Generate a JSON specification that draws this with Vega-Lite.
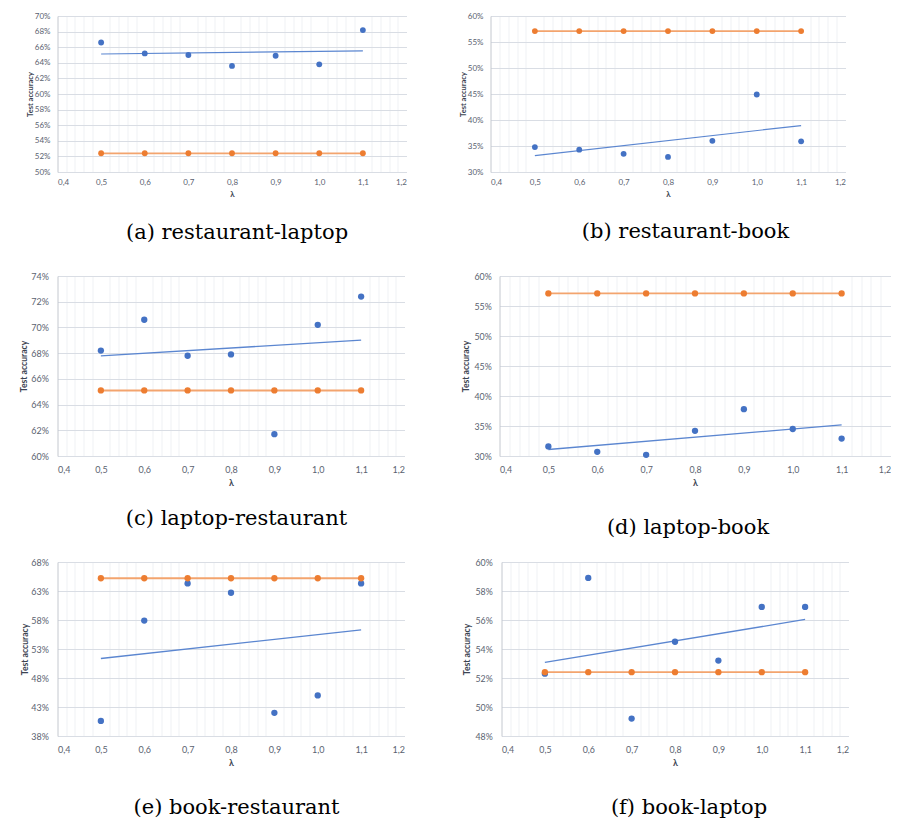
{
"$schema": "https://vega.github.io/schema/vega-lite/v6.json",
"padding": {"left": 19.5, "top": 12, "right": 0, "bottom": 0},
"background": "white",
"datasets": {"acc": [
{"p":"a","lam":0.5,"acc":0.666,"s":"model"},{"p":"a","lam":0.6,"acc":0.652,"s":"model"},{"p":"a","lam":0.7,"acc":0.650,"s":"model"},{"p":"a","lam":0.8,"acc":0.636,"s":"model"},{"p":"a","lam":0.9,"acc":0.649,"s":"model"},{"p":"a","lam":1.0,"acc":0.638,"s":"model"},{"p":"a","lam":1.1,"acc":0.682,"s":"model"},
{"p":"a","lam":0.5,"acc":0.524,"s":"baseline"},{"p":"a","lam":0.6,"acc":0.524,"s":"baseline"},{"p":"a","lam":0.7,"acc":0.524,"s":"baseline"},{"p":"a","lam":0.8,"acc":0.524,"s":"baseline"},{"p":"a","lam":0.9,"acc":0.524,"s":"baseline"},{"p":"a","lam":1.0,"acc":0.524,"s":"baseline"},{"p":"a","lam":1.1,"acc":0.524,"s":"baseline"},
{"p":"b","lam":0.5,"acc":0.348,"s":"model"},{"p":"b","lam":0.6,"acc":0.343,"s":"model"},{"p":"b","lam":0.7,"acc":0.335,"s":"model"},{"p":"b","lam":0.8,"acc":0.329,"s":"model"},{"p":"b","lam":0.9,"acc":0.360,"s":"model"},{"p":"b","lam":1.0,"acc":0.449,"s":"model"},{"p":"b","lam":1.1,"acc":0.359,"s":"model"},
{"p":"b","lam":0.5,"acc":0.571,"s":"baseline"},{"p":"b","lam":0.6,"acc":0.571,"s":"baseline"},{"p":"b","lam":0.7,"acc":0.571,"s":"baseline"},{"p":"b","lam":0.8,"acc":0.571,"s":"baseline"},{"p":"b","lam":0.9,"acc":0.571,"s":"baseline"},{"p":"b","lam":1.0,"acc":0.571,"s":"baseline"},{"p":"b","lam":1.1,"acc":0.571,"s":"baseline"},
{"p":"c","lam":0.5,"acc":0.682,"s":"model"},{"p":"c","lam":0.6,"acc":0.706,"s":"model"},{"p":"c","lam":0.7,"acc":0.678,"s":"model"},{"p":"c","lam":0.8,"acc":0.679,"s":"model"},{"p":"c","lam":0.9,"acc":0.617,"s":"model"},{"p":"c","lam":1.0,"acc":0.702,"s":"model"},{"p":"c","lam":1.1,"acc":0.724,"s":"model"},
{"p":"c","lam":0.5,"acc":0.651,"s":"baseline"},{"p":"c","lam":0.6,"acc":0.651,"s":"baseline"},{"p":"c","lam":0.7,"acc":0.651,"s":"baseline"},{"p":"c","lam":0.8,"acc":0.651,"s":"baseline"},{"p":"c","lam":0.9,"acc":0.651,"s":"baseline"},{"p":"c","lam":1.0,"acc":0.651,"s":"baseline"},{"p":"c","lam":1.1,"acc":0.651,"s":"baseline"},
{"p":"d","lam":0.5,"acc":0.316,"s":"model"},{"p":"d","lam":0.6,"acc":0.307,"s":"model"},{"p":"d","lam":0.7,"acc":0.302,"s":"model"},{"p":"d","lam":0.8,"acc":0.342,"s":"model"},{"p":"d","lam":0.9,"acc":0.378,"s":"model"},{"p":"d","lam":1.0,"acc":0.345,"s":"model"},{"p":"d","lam":1.1,"acc":0.329,"s":"model"},
{"p":"d","lam":0.5,"acc":0.571,"s":"baseline"},{"p":"d","lam":0.6,"acc":0.571,"s":"baseline"},{"p":"d","lam":0.7,"acc":0.571,"s":"baseline"},{"p":"d","lam":0.8,"acc":0.571,"s":"baseline"},{"p":"d","lam":0.9,"acc":0.571,"s":"baseline"},{"p":"d","lam":1.0,"acc":0.571,"s":"baseline"},{"p":"d","lam":1.1,"acc":0.571,"s":"baseline"},
{"p":"e","lam":0.5,"acc":0.406,"s":"model"},{"p":"e","lam":0.6,"acc":0.579,"s":"model"},{"p":"e","lam":0.7,"acc":0.643,"s":"model"},{"p":"e","lam":0.8,"acc":0.627,"s":"model"},{"p":"e","lam":0.9,"acc":0.420,"s":"model"},{"p":"e","lam":1.0,"acc":0.450,"s":"model"},{"p":"e","lam":1.1,"acc":0.643,"s":"model"},
{"p":"e","lam":0.5,"acc":0.652,"s":"baseline"},{"p":"e","lam":0.6,"acc":0.652,"s":"baseline"},{"p":"e","lam":0.7,"acc":0.652,"s":"baseline"},{"p":"e","lam":0.8,"acc":0.652,"s":"baseline"},{"p":"e","lam":0.9,"acc":0.652,"s":"baseline"},{"p":"e","lam":1.0,"acc":0.652,"s":"baseline"},{"p":"e","lam":1.1,"acc":0.652,"s":"baseline"},
{"p":"f","lam":0.5,"acc":0.523,"s":"model"},{"p":"f","lam":0.6,"acc":0.589,"s":"model"},{"p":"f","lam":0.7,"acc":0.492,"s":"model"},{"p":"f","lam":0.8,"acc":0.545,"s":"model"},{"p":"f","lam":0.9,"acc":0.532,"s":"model"},{"p":"f","lam":1.0,"acc":0.569,"s":"model"},{"p":"f","lam":1.1,"acc":0.569,"s":"model"},
{"p":"f","lam":0.5,"acc":0.524,"s":"baseline"},{"p":"f","lam":0.6,"acc":0.524,"s":"baseline"},{"p":"f","lam":0.7,"acc":0.524,"s":"baseline"},{"p":"f","lam":0.8,"acc":0.524,"s":"baseline"},{"p":"f","lam":0.9,"acc":0.524,"s":"baseline"},{"p":"f","lam":1.0,"acc":0.524,"s":"baseline"},{"p":"f","lam":1.1,"acc":0.524,"s":"baseline"}
]},
"data": {"name": "acc"},
"vconcat": [
 {"vconcat": [
  {"hconcat": [
   {"width": 349, "height": 156,
    "title": {"text": "(a) restaurant-laptop", "orient": "bottom", "frame": "group", "anchor": "middle", "dx": 5, "offset": 23},
    "transform": [{"filter": "datum.p == 'a'"}],
    "encoding": {
     "x": {"field": "lam", "type": "quantitative", "scale": {"domain": [0.4, 1.2], "nice": false, "zero": false}, "axis": null},
     "y": {"field": "acc", "type": "quantitative", "scale": {"domain": [0.5, 0.7], "nice": false, "zero": false}, "title": "Test accuracy",
       "axis": {"values": [0.5,0.52,0.54,0.56,0.58,0.6,0.62,0.64,0.66,0.68,0.7], "format": ".0%", "labelFontSize": 8, "titleFontSize": 7.5, "titlePadding": 0, "labelPadding": 7.5}}
    },
    "layer": [
     {"transform": [{"filter": "datum.s == 'model'"}, {"regression": "acc", "on": "lam", "extent": [0.5, 1.1]}],
      "mark": {"type": "line", "color": "#5b86d0", "strokeWidth": 1.2},
      "encoding": {"x": {"field": "lam", "type": "quantitative", "scale": {"domain": [0.4, 1.2], "nice": false, "zero": false},
        "axis": {"orient": "top", "values": [0.42,0.44,0.46,0.48,0.52,0.54,0.56,0.58,0.62,0.64,0.66,0.68,0.72,0.74,0.76,0.78,0.82,0.84,0.86,0.88,0.92,0.94,0.96,0.98,1.02,1.04,1.06,1.08,1.12,1.14,1.16,1.18], "labels": false, "ticks": false, "domain": false, "title": null, "grid": true, "gridColor": "#eff1f4"}}}},
     {"transform": [{"filter": "datum.s == 'model'"}],
      "mark": {"type": "circle", "color": "#4472C4", "size": 34, "opacity": 1},
      "encoding": {"x": {"field": "lam", "type": "quantitative", "scale": {"domain": [0.4, 1.2], "nice": false, "zero": false}, "title": "λ",
        "axis": {"values": [0.4,0.5,0.6,0.7,0.8,0.9,1.0,1.1,1.2], "labelExpr": "replace(format(datum.value, '.1f'), '.', ',')", "labelFontSize": 8, "titleFontSize": 8, "labelPadding": 6.7, "titlePadding": 3.8, "domainColor": "#d9dde4"}}}},
     {"transform": [{"filter": "datum.s == 'baseline'"}], "mark": {"type": "line", "color": "#F3A46E", "strokeWidth": 1.8}, "encoding": {}},
     {"transform": [{"filter": "datum.s == 'baseline'"}], "mark": {"type": "circle", "color": "#ED7D31", "size": 34, "opacity": 1}, "encoding": {}}
    ],
    "resolve": {"axis": {"x": "independent"}}
   },
   {"width": 355, "height": 156,
    "title": {"text": "(b) restaurant-book", "orient": "bottom", "frame": "group", "anchor": "middle", "dx": 17.5, "offset": 22.5},
    "transform": [{"filter": "datum.p == 'b'"}],
    "encoding": {
     "x": {"field": "lam", "type": "quantitative", "scale": {"domain": [0.4, 1.2], "nice": false, "zero": false}, "axis": null},
     "y": {"field": "acc", "type": "quantitative", "scale": {"domain": [0.3, 0.6], "nice": false, "zero": false}, "title": "Test accuracy",
       "axis": {"values": [0.3,0.35,0.4,0.45,0.5,0.55,0.6], "format": ".0%", "labelFontSize": 8, "titleFontSize": 7.5, "titlePadding": 0, "labelPadding": 7.5}}
    },
    "layer": [
     {"transform": [{"filter": "datum.s == 'model'"}, {"regression": "acc", "on": "lam", "extent": [0.5, 1.1]}],
      "mark": {"type": "line", "color": "#5b86d0", "strokeWidth": 1.2},
      "encoding": {"x": {"field": "lam", "type": "quantitative", "scale": {"domain": [0.4, 1.2], "nice": false, "zero": false},
        "axis": {"orient": "top", "values": [0.42,0.44,0.46,0.48,0.52,0.54,0.56,0.58,0.62,0.64,0.66,0.68,0.72,0.74,0.76,0.78,0.82,0.84,0.86,0.88,0.92,0.94,0.96,0.98,1.02,1.04,1.06,1.08,1.12,1.14,1.16,1.18], "labels": false, "ticks": false, "domain": false, "title": null, "grid": true, "gridColor": "#eff1f4"}}}},
     {"transform": [{"filter": "datum.s == 'model'"}],
      "mark": {"type": "circle", "color": "#4472C4", "size": 34, "opacity": 1},
      "encoding": {"x": {"field": "lam", "type": "quantitative", "scale": {"domain": [0.4, 1.2], "nice": false, "zero": false}, "title": "λ",
        "axis": {"values": [0.4,0.5,0.6,0.7,0.8,0.9,1.0,1.1,1.2], "labelExpr": "replace(format(datum.value, '.1f'), '.', ',')", "labelFontSize": 8, "titleFontSize": 8, "labelPadding": 6.7, "titlePadding": 3.8, "domainColor": "#d9dde4"}}}},
     {"transform": [{"filter": "datum.s == 'baseline'"}], "mark": {"type": "line", "color": "#F3A46E", "strokeWidth": 1.8}, "encoding": {}},
     {"transform": [{"filter": "datum.s == 'baseline'"}], "mark": {"type": "circle", "color": "#ED7D31", "size": 34, "opacity": 1}, "encoding": {}}
    ],
    "resolve": {"axis": {"x": "independent"}}
   }
  ], "spacing": 52},
  {"hconcat": [
   {"width": 347, "height": 180,
    "title": {"text": "(c) laptop-restaurant", "orient": "bottom", "frame": "group", "anchor": "middle", "dx": 5.5, "offset": 20.5},
    "transform": [{"filter": "datum.p == 'c'"}],
    "encoding": {
     "x": {"field": "lam", "type": "quantitative", "scale": {"domain": [0.4, 1.2], "nice": false, "zero": false}, "axis": null},
     "y": {"field": "acc", "type": "quantitative", "scale": {"domain": [0.6, 0.74], "nice": false, "zero": false}, "title": "Test accuracy",
       "axis": {"values": [0.6,0.62,0.64,0.66,0.68,0.7,0.72,0.74], "format": ".0%", "labelFontSize": 9, "titleFontSize": 8.6, "titlePadding": 2, "labelPadding": 9}}
    },
    "layer": [
     {"transform": [{"filter": "datum.s == 'model'"}, {"regression": "acc", "on": "lam", "extent": [0.5, 1.1]}],
      "mark": {"type": "line", "color": "#5b86d0", "strokeWidth": 1.3},
      "encoding": {"x": {"field": "lam", "type": "quantitative", "scale": {"domain": [0.4, 1.2], "nice": false, "zero": false},
        "axis": {"orient": "top", "values": [0.42,0.44,0.46,0.48,0.52,0.54,0.56,0.58,0.62,0.64,0.66,0.68,0.72,0.74,0.76,0.78,0.82,0.84,0.86,0.88,0.92,0.94,0.96,0.98,1.02,1.04,1.06,1.08,1.12,1.14,1.16,1.18], "labels": false, "ticks": false, "domain": false, "title": null, "grid": true, "gridColor": "#eff1f4"}}}},
     {"transform": [{"filter": "datum.s == 'model'"}],
      "mark": {"type": "circle", "color": "#4472C4", "size": 40, "opacity": 1},
      "encoding": {"x": {"field": "lam", "type": "quantitative", "scale": {"domain": [0.4, 1.2], "nice": false, "zero": false}, "title": "λ",
        "axis": {"values": [0.4,0.5,0.6,0.7,0.8,0.9,1.0,1.1,1.2], "labelExpr": "replace(format(datum.value, '.1f'), '.', ',')", "labelFontSize": 9, "titleFontSize": 9, "labelPadding": 9.5, "titlePadding": 4, "domainColor": "#d9dde4"}}}},
     {"transform": [{"filter": "datum.s == 'baseline'"}], "mark": {"type": "line", "color": "#F3A46E", "strokeWidth": 2}, "encoding": {}},
     {"transform": [{"filter": "datum.s == 'baseline'"}], "mark": {"type": "circle", "color": "#ED7D31", "size": 40, "opacity": 1}, "encoding": {}}
    ],
    "resolve": {"axis": {"x": "independent"}}
   },
   {"width": 391, "height": 180,
    "title": {"text": "(d) laptop-book", "orient": "bottom", "frame": "group", "anchor": "middle", "dx": -7, "offset": 29.5},
    "transform": [{"filter": "datum.p == 'd'"}],
    "encoding": {
     "x": {"field": "lam", "type": "quantitative", "scale": {"domain": [0.4, 1.2], "nice": false, "zero": false}, "axis": null},
     "y": {"field": "acc", "type": "quantitative", "scale": {"domain": [0.3, 0.6], "nice": false, "zero": false}, "title": "Test accuracy",
       "axis": {"values": [0.3,0.35,0.4,0.45,0.5,0.55,0.6], "format": ".0%", "labelFontSize": 8.8, "titleFontSize": 8.6, "titlePadding": 3, "labelPadding": 8.3}}
    },
    "layer": [
     {"transform": [{"filter": "datum.s == 'model'"}, {"regression": "acc", "on": "lam", "extent": [0.5, 1.1]}],
      "mark": {"type": "line", "color": "#5b86d0", "strokeWidth": 1.3},
      "encoding": {"x": {"field": "lam", "type": "quantitative", "scale": {"domain": [0.4, 1.2], "nice": false, "zero": false},
        "axis": {"orient": "top", "values": [0.42,0.44,0.46,0.48,0.52,0.54,0.56,0.58,0.62,0.64,0.66,0.68,0.72,0.74,0.76,0.78,0.82,0.84,0.86,0.88,0.92,0.94,0.96,0.98,1.02,1.04,1.06,1.08,1.12,1.14,1.16,1.18], "labels": false, "ticks": false, "domain": false, "title": null, "grid": true, "gridColor": "#eff1f4"}}}},
     {"transform": [{"filter": "datum.s == 'model'"}],
      "mark": {"type": "circle", "color": "#4472C4", "size": 40, "opacity": 1},
      "encoding": {"x": {"field": "lam", "type": "quantitative", "scale": {"domain": [0.4, 1.2], "nice": false, "zero": false}, "title": "λ",
        "axis": {"values": [0.4,0.5,0.6,0.7,0.8,0.9,1.0,1.1,1.2], "labelExpr": "replace(format(datum.value, '.1f'), '.', ',')", "labelFontSize": 8.8, "titleFontSize": 9, "labelPadding": 9.5, "titlePadding": 4, "domainColor": "#d9dde4"}}}},
     {"transform": [{"filter": "datum.s == 'baseline'"}], "mark": {"type": "line", "color": "#F3A46E", "strokeWidth": 1.8}, "encoding": {}},
     {"transform": [{"filter": "datum.s == 'baseline'"}], "mark": {"type": "circle", "color": "#ED7D31", "size": 40, "opacity": 1}, "encoding": {}}
    ],
    "resolve": {"axis": {"x": "independent"}}
   }
  ], "spacing": 57}
 ], "spacing": 29},
 {"hconcat": [
   {"width": 347, "height": 174,
    "title": {"text": "(e) book-restaurant", "orient": "bottom", "frame": "group", "anchor": "middle", "dx": 5.5, "offset": 29.5},
    "transform": [{"filter": "datum.p == 'e'"}],
    "encoding": {
     "x": {"field": "lam", "type": "quantitative", "scale": {"domain": [0.4, 1.2], "nice": false, "zero": false}, "axis": null},
     "y": {"field": "acc", "type": "quantitative", "scale": {"domain": [0.38, 0.68], "nice": false, "zero": false}, "title": "Test accuracy",
       "axis": {"values": [0.38,0.43,0.48,0.53,0.58,0.63,0.68], "format": ".0%", "labelFontSize": 9, "titleFontSize": 8.6, "titlePadding": 1, "labelPadding": 9}}
    },
    "layer": [
     {"transform": [{"filter": "datum.s == 'model'"}, {"regression": "acc", "on": "lam", "extent": [0.5, 1.1]}],
      "mark": {"type": "line", "color": "#5b86d0", "strokeWidth": 1.3},
      "encoding": {"x": {"field": "lam", "type": "quantitative", "scale": {"domain": [0.4, 1.2], "nice": false, "zero": false},
        "axis": {"orient": "top", "values": [0.42,0.44,0.46,0.48,0.52,0.54,0.56,0.58,0.62,0.64,0.66,0.68,0.72,0.74,0.76,0.78,0.82,0.84,0.86,0.88,0.92,0.94,0.96,0.98,1.02,1.04,1.06,1.08,1.12,1.14,1.16,1.18], "labels": false, "ticks": false, "domain": false, "title": null, "grid": true, "gridColor": "#eff1f4"}}}},
     {"transform": [{"filter": "datum.s == 'model'"}],
      "mark": {"type": "circle", "color": "#4472C4", "size": 40, "opacity": 1},
      "encoding": {"x": {"field": "lam", "type": "quantitative", "scale": {"domain": [0.4, 1.2], "nice": false, "zero": false}, "title": "λ",
        "axis": {"values": [0.4,0.5,0.6,0.7,0.8,0.9,1.0,1.1,1.2], "labelExpr": "replace(format(datum.value, '.1f'), '.', ',')", "labelFontSize": 9, "titleFontSize": 9, "labelPadding": 9.5, "titlePadding": 4, "domainColor": "#d9dde4"}}}},
     {"transform": [{"filter": "datum.s == 'baseline'"}], "mark": {"type": "line", "color": "#F3A46E", "strokeWidth": 2}, "encoding": {}},
     {"transform": [{"filter": "datum.s == 'baseline'"}], "mark": {"type": "circle", "color": "#ED7D31", "size": 40, "opacity": 1}, "encoding": {}}
    ],
    "resolve": {"axis": {"x": "independent"}}
   },
   {"width": 347, "height": 174,
    "title": {"text": "(f) book-laptop", "orient": "bottom", "frame": "group", "anchor": "middle", "dx": 14, "offset": 29.5},
    "transform": [{"filter": "datum.p == 'f'"}],
    "encoding": {
     "x": {"field": "lam", "type": "quantitative", "scale": {"domain": [0.4, 1.2], "nice": false, "zero": false}, "axis": null},
     "y": {"field": "acc", "type": "quantitative", "scale": {"domain": [0.48, 0.6], "nice": false, "zero": false}, "title": "Test accuracy",
       "axis": {"values": [0.48,0.5,0.52,0.54,0.56,0.58,0.6], "format": ".0%", "labelFontSize": 8.8, "titleFontSize": 8.6, "titlePadding": 3, "labelPadding": 9.3}}
    },
    "layer": [
     {"transform": [{"filter": "datum.s == 'model'"}, {"regression": "acc", "on": "lam", "extent": [0.5, 1.1]}],
      "mark": {"type": "line", "color": "#5b86d0", "strokeWidth": 1.3},
      "encoding": {"x": {"field": "lam", "type": "quantitative", "scale": {"domain": [0.4, 1.2], "nice": false, "zero": false},
        "axis": {"orient": "top", "values": [0.42,0.44,0.46,0.48,0.52,0.54,0.56,0.58,0.62,0.64,0.66,0.68,0.72,0.74,0.76,0.78,0.82,0.84,0.86,0.88,0.92,0.94,0.96,0.98,1.02,1.04,1.06,1.08,1.12,1.14,1.16,1.18], "labels": false, "ticks": false, "domain": false, "title": null, "grid": true, "gridColor": "#eff1f4"}}}},
     {"transform": [{"filter": "datum.s == 'model'"}],
      "mark": {"type": "circle", "color": "#4472C4", "size": 40, "opacity": 1},
      "encoding": {"x": {"field": "lam", "type": "quantitative", "scale": {"domain": [0.4, 1.2], "nice": false, "zero": false}, "title": "λ",
        "axis": {"values": [0.4,0.5,0.6,0.7,0.8,0.9,1.0,1.1,1.2], "labelExpr": "replace(format(datum.value, '.1f'), '.', ',')", "labelFontSize": 8.8, "titleFontSize": 9, "labelPadding": 9.5, "titlePadding": 4, "domainColor": "#d9dde4"}}}},
     {"transform": [{"filter": "datum.s == 'baseline'"}], "mark": {"type": "line", "color": "#F3A46E", "strokeWidth": 1.8}, "encoding": {}},
     {"transform": [{"filter": "datum.s == 'baseline'"}], "mark": {"type": "circle", "color": "#ED7D31", "size": 40, "opacity": 1}, "encoding": {}}
    ],
    "resolve": {"axis": {"x": "independent"}}
   }
 ], "spacing": 58}
],
"spacing": 20,
"config": {
 "view": {"stroke": null},
 "axis": {"labelFont": "Lato", "titleFont": "Lato", "labelColor": "#5a6270", "titleColor": "#3c4452", "titleFontWeight": "bold", "gridColor": "#d9dde4", "grid": true, "ticks": false, "tickSize": 0, "domainColor": "#c4c8cf"},
 "title": {"font": "DejaVu Serif", "fontSize": 21, "fontWeight": "normal", "color": "#000000"}
}
}
